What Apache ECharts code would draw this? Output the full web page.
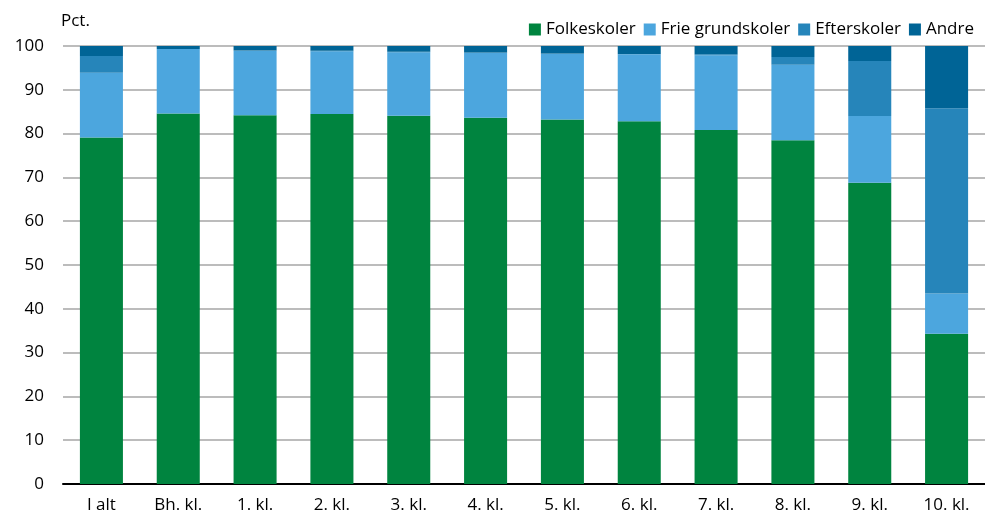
<!DOCTYPE html>
<html>
<head>
<meta charset="utf-8">
<script src="https://cdn.jsdelivr.net/npm/echarts@6/dist/echarts.min.js"></script>
<style>
  html, body { margin: 0; padding: 0; background: #fff; }
  #chart { width: 985px; height: 520px; }
</style>
</head>
<body>
<div id="chart"></div>
<script>
const categories = ["I alt", "Bh. kl.", "1. kl.", "2. kl.", "3. kl.", "4. kl.", "5. kl.", "6. kl.", "7. kl.", "8. kl.", "9. kl.", "10. kl."];
const folkeskoler = [79.1, 84.6, 84.2, 84.5, 84.1, 83.6, 83.2, 82.8, 80.8, 78.5, 68.8, 34.3];
const frieGrundskoler = [14.8, 14.7, 14.7, 14.3, 14.5, 14.8, 15.0, 15.3, 17.1, 17.2, 15.2, 9.2];
const efterskoler = [3.8, 0, 0.1, 0.1, 0.1, 0.1, 0.1, 0.1, 0.2, 1.8, 12.6, 42.3];
const andre = [2.3, 0.7, 1.0, 1.1, 1.3, 1.5, 1.7, 1.8, 1.9, 2.5, 3.4, 14.2];
const yTicks = [0, 10, 20, 30, 40, 50, 60, 70, 80, 90, 100];

const font = "Open Sans";
const chart = echarts.init(document.getElementById("chart"));

function bar(name, data, color) {
  return {
    name: name,
    type: "bar",
    stack: "total",
    barWidth: "56%",
    itemStyle: { color: color },
    data: data,
  };
}

chart.setOption({
  animation: false,
  textStyle: { fontFamily: font },
  legend: {
    right: 6,
    top: 16,
    itemWidth: 12,
    itemHeight: 12,
    itemGap: 8,
    icon: "rect",
    textStyle: { fontFamily: font, fontSize: 17, color: "#000" },
    data: ["Folkeskoler", "Frie grundskoler", "Efterskoler", "Andre"],
  },
  grid: {
    left: 63,
    right: -7,
    top: 46,
    bottom: 36,
  },
  xAxis: {
    type: "category",
    data: categories,
    axisTick: { show: false },
    axisLine: { lineStyle: { color: "#000", width: 2 } },
    axisLabel: { color: "#000", fontSize: 17, fontFamily: font, margin: 13 },
  },
  yAxis: {
    type: "value",
    min: yTicks[0],
    max: yTicks[yTicks.length - 1],
    interval: 10,
    name: "Pct.",
    nameLocation: "end",
    nameGap: 16,
    nameTextStyle: { color: "#000", fontSize: 17, fontFamily: font, align: "left", padding: [0, 0, 0, -2] },
    axisLine: { show: false },
    axisTick: { show: false },
    axisLabel: { color: "#000", fontSize: 17, fontFamily: font, margin: 19 },
    splitLine: { lineStyle: { color: "#a6a6a6", width: 1.5 } },
  },
  series: [
    bar("Folkeskoler", folkeskoler, "#00843f"),
    bar("Frie grundskoler", frieGrundskoler, "#4ca6de"),
    bar("Efterskoler", efterskoler, "#2685ba"),
    bar("Andre", andre, "#006496"),
  ],
});
</script>
</body>
</html>
